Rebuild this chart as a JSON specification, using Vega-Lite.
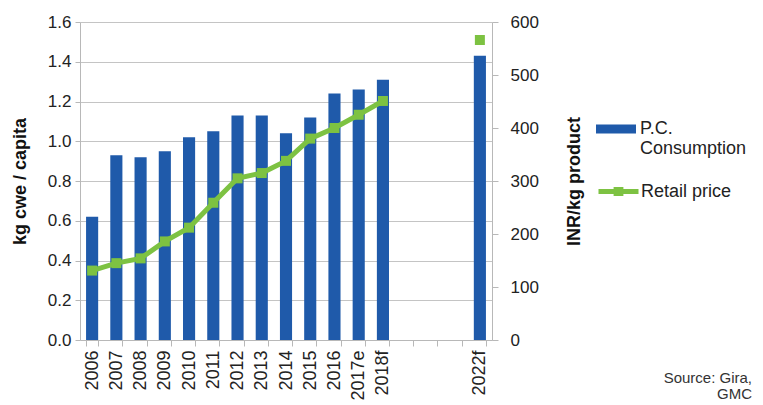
{
  "$schema": "https://vega.github.io/schema/vega-lite/v6.json",
  "width": 412,
  "height": 318,
  "autosize": {"type": "none"},
  "padding": {"left": 80, "top": 22, "right": 271, "bottom": 65},
  "title": {
    "text": ["Source: Gira,", "GMC"],
    "orient": "bottom",
    "anchor": "end",
    "frame": "group",
    "fontSize": 15,
    "fontWeight": "normal",
    "color": "#333333",
    "lineHeight": 16,
    "dx": 260,
    "dy": -33
  },
  "data": {
    "values": [
      {"year": "2006", "consumption": 0.62, "price": 131},
      {"year": "2007", "consumption": 0.93, "price": 145},
      {"year": "2008", "consumption": 0.92, "price": 154},
      {"year": "2009", "consumption": 0.95, "price": 186},
      {"year": "2010", "consumption": 1.02, "price": 212},
      {"year": "2011", "consumption": 1.05, "price": 259},
      {"year": "2012", "consumption": 1.13, "price": 305},
      {"year": "2013", "consumption": 1.13, "price": 315},
      {"year": "2014", "consumption": 1.04, "price": 338},
      {"year": "2015", "consumption": 1.12, "price": 380},
      {"year": "2016", "consumption": 1.24, "price": 400},
      {"year": "2017e", "consumption": 1.26, "price": 425},
      {"year": "2018f", "consumption": 1.31, "price": 451},
      {"year": "2022f", "consumption": 1.43, "price": 566}
    ]
  },
  "encoding": {
    "x": {
      "field": "year",
      "type": "ordinal",
      "sort": null,
      "scale": {
        "domain": ["2006", "2007", "2008", "2009", "2010", "2011", "2012", "2013", "2014", "2015", "2016", "2017e", "2018f", "2019", "2020", "2021", "2022f"],
        "paddingInner": 0.5,
        "paddingOuter": 0.25
      },
      "axis": {
        "title": null,
        "labelAngle": -90,
        "labelFontSize": 18,
        "labelColor": "#222222",
        "labelPadding": 4,
        "labelExpr": "(datum.label == '2019' || datum.label == '2020' || datum.label == '2021') ? '' : datum.label",
        "tickBand": "extent",
        "tickSize": 6,
        "tickColor": "#b8b8b8",
        "domainColor": "#b8b8b8",
        "grid": false
      }
    }
  },
  "layer": [
    {
      "mark": {"type": "bar"},
      "encoding": {
        "y": {
          "field": "consumption",
          "type": "quantitative",
          "scale": {"domain": [0, 1.6]},
          "axis": {
            "title": "kg cwe / capita",
            "values": [0, 0.2, 0.4, 0.6, 0.8, 1.0, 1.2, 1.4, 1.6],
            "format": ".1f",
            "grid": true,
            "gridColor": "#c4c4c4",
            "tickSize": 5,
            "tickColor": "#b8b8b8",
            "domainColor": "#b8b8b8",
            "labelFontSize": 17,
            "labelColor": "#222222",
            "labelPadding": 4,
            "titleFontSize": 18,
            "titleFontWeight": "bold",
            "titleColor": "#111111",
            "titlePadding": 18
          }
        },
        "fill": {
          "datum": "P.C. Consumption",
          "scale": {"range": ["#1f5aaa"]},
          "legend": {
            "orient": "none",
            "legendX": 516,
            "legendY": 87,
            "title": null,
            "padding": 0,
            "symbolType": "M-1,-0.225H1V0.225H-1Z",
            "symbolSize": 1600,
            "symbolStrokeWidth": 0,
            "labelFontSize": 18,
            "labelColor": "#222222",
            "labelOffset": 4,
            "labelExpr": "['P.C.', 'Consumption']"
          }
        }
      }
    },
    {
      "layer": [
        {
          "transform": [{"filter": "datum.year != '2022f'"}],
          "mark": {"type": "line", "strokeWidth": 5},
          "encoding": {
            "stroke": {
              "datum": "Retail price",
              "scale": {"range": ["#7dc242"]},
              "legend": {
                "orient": "none",
                "legendX": 516,
                "legendY": 147,
                "title": null,
                "padding": 0,
                "symbolType": "M-1,0H1M-0.12,-0.1H0.12V0.1H-0.12Z",
                "symbolSize": 1600,
                "symbolStrokeWidth": 5,
                "labelFontSize": 18,
                "labelColor": "#222222",
                "labelOffset": 0,
                "encode": {"symbols": {"update": {"fill": {"value": "#7dc242"}}}}
              }
            }
          }
        },
        {
          "mark": {"type": "point", "shape": "square", "filled": true, "size": 100, "opacity": 1, "color": "#7dc242"}
        }
      ],
      "encoding": {
        "y": {
          "field": "price",
          "type": "quantitative",
          "scale": {"domain": [0, 600]},
          "axis": {
            "orient": "right",
            "title": "INR/kg product",
            "titleAngle": 270,
            "values": [0, 100, 200, 300, 400, 500, 600],
            "grid": false,
            "tickSize": 6,
            "tickColor": "#b8b8b8",
            "domainColor": "#b8b8b8",
            "labelFontSize": 17,
            "labelColor": "#222222",
            "labelPadding": 12,
            "titleFontSize": 18,
            "titleFontWeight": "bold",
            "titleColor": "#111111",
            "titlePadding": 45
          }
        }
      }
    }
  ],
  "resolve": {"scale": {"y": "independent"}},
  "config": {
    "font": "Liberation Sans",
    "view": {"stroke": null}
  }
}
